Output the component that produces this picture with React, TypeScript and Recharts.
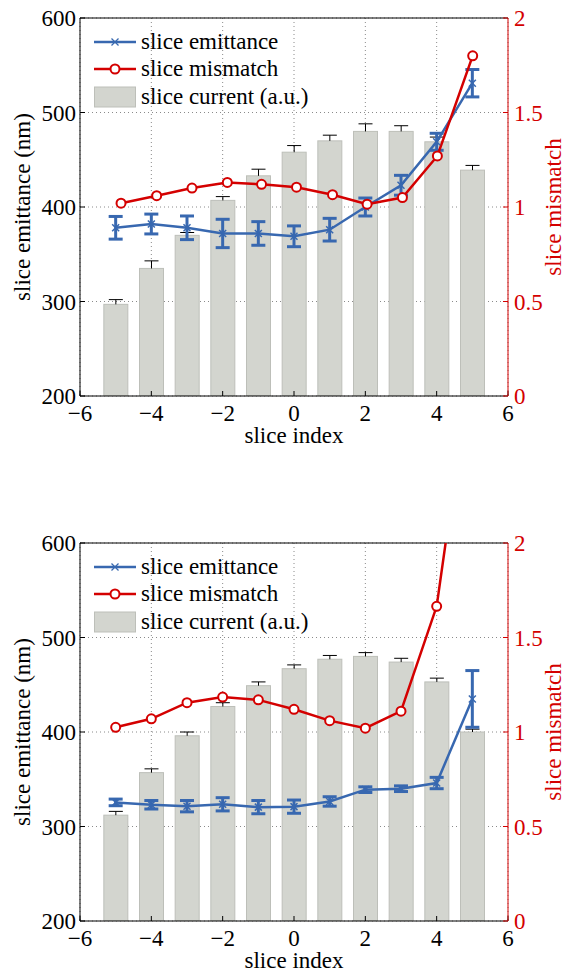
import React from "react"
import { ComposedChart, Bar, Line, XAxis, YAxis, CartesianGrid, ErrorBar, ReferenceLine, Legend } from "recharts"

const sliceIndex = [-5, -4, -3, -2, -1, 0, 1, 2, 3, 4, 5]

// upper panel
const currentTop = [297, 335, 370, 407, 433, 458, 470, 480, 480, 469, 439]
const currentErrTop = [5, 8, 3, 4, 7, 7, 6, 8, 6, 5, 5]
const emittanceTop = [378, 382, 378, 372, 372, 369, 376, 400, 423, 469, 531]
const emittanceErrTop = [12, 10.5, 12.5, 15, 12.5, 11, 12, 9.5, 10.5, 9, 14.5]
const mismatchXTop = [-4.85, -3.85, -2.86, -1.87, -0.91, 0.07, 1.08, 2.05, 3.04, 4.02, 5.01]
const mismatchTop = [1.02, 1.06, 1.1, 1.13, 1.12, 1.105, 1.065, 1.015, 1.05, 1.27, 1.8]

// lower panel
const currentBottom = [312, 357, 396, 427, 449, 467, 477, 480, 474, 453, 400]
const currentErrBottom = [4, 4, 4, 4, 4, 4, 4, 4, 4, 4, 3]
const emittanceBottom = [325.5, 323, 321.5, 323.5, 320.5, 321, 326.5, 339, 340, 346, 435]
const emittanceErrBottom = [3.5, 4.5, 6, 7, 7, 7, 5, 3, 3, 6, 30]
const mismatchBottom = [1.025, 1.07, 1.155, 1.185, 1.17, 1.12, 1.06, 1.02, 1.11, 1.665, 3.0]

const xTicks = [-6, -4, -2, 0, 2, 4, 6]
const leftTicks = [200, 300, 400, 500, 600]
const rightTicks = [0, 0.5, 1, 1.5, 2]

const FONT = '"Liberation Serif", "Times New Roman", serif'
const FS = 23
const BLUE = "#3868B0"
const RED = "#D40000"
const BAR = "#D3D5CF"
const BAR_EDGE = "#BDBFB9"

const fmt = (v: number) => String(v).replace("-", "\u2212")

function buildMain(cur: number[], curErr: number[], emit: number[], emitErr: number[]) {
  return sliceIndex.map((x, i) => ({
    x,
    current: cur[i],
    currentErr: curErr[i],
    emittance: emit[i],
    emittanceErr: emitErr[i],
  }))
}

function buildMismatch(xs: number[], m: number[]) {
  return xs.map((x, i) => ({ xm: x, m: m[i] }))
}

// bar with a one-sided (upper) error bar, scaled from the bar's own height
const BarWithErr = (props: any) => {
  const { x, y, width, height, payload } = props
  const pxPerUnit = height / (payload.current - 200)
  const cx = x + width / 2
  const ty = y - payload.currentErr * pxPerUnit
  return (
    <g>
      <rect x={x} y={y} width={width} height={height} fill={BAR} stroke={BAR_EDGE} strokeWidth={1} />
      <line x1={cx} y1={y} x2={cx} y2={ty} stroke="#000" strokeWidth={1} />
      <line x1={cx - 7} y1={ty} x2={cx + 7} y2={ty} stroke="#000" strokeWidth={1} />
    </g>
  )
}

const Cross = (props: any) => {
  const { cx, cy, index } = props
  if (cx == null || cy == null) return <g key={`c-${index}`} />
  const s = 3.5
  return (
    <g key={`c-${index}`}>
      <line x1={cx - s} y1={cy - s} x2={cx + s} y2={cy + s} stroke={BLUE} strokeWidth={1.5} />
      <line x1={cx - s} y1={cy + s} x2={cx + s} y2={cy - s} stroke={BLUE} strokeWidth={1.5} />
    </g>
  )
}

const LegendBox = () => {
  const row = { display: "flex", alignItems: "center", height: 27.5 } as const
  return (
    <div style={{ fontFamily: FONT, fontSize: FS, color: "#000", whiteSpace: "nowrap" }}>
      <div style={row}>
        <svg width={42} height={20}>
          <line x1={0} y1={10} x2={42} y2={10} stroke={BLUE} strokeWidth={2.5} />
          <line x1={17.5} y1={6.5} x2={24.5} y2={13.5} stroke={BLUE} strokeWidth={1.2} />
          <line x1={17.5} y1={13.5} x2={24.5} y2={6.5} stroke={BLUE} strokeWidth={1.2} />
        </svg>
        <span style={{ marginLeft: 5 }}>slice emittance</span>
      </div>
      <div style={row}>
        <svg width={42} height={20}>
          <line x1={0} y1={10} x2={42} y2={10} stroke={RED} strokeWidth={2.5} />
          <circle cx={21} cy={10} r={4.5} fill="#fff" stroke={RED} strokeWidth={2} />
        </svg>
        <span style={{ marginLeft: 5 }}>slice mismatch</span>
      </div>
      <div style={row}>
        <svg width={42} height={22}>
          <rect x={0.5} y={1} width={41} height={20} fill={BAR} stroke={BAR_EDGE} />
        </svg>
        <span style={{ marginLeft: 5 }}>slice current (a.u.)</span>
      </div>
    </div>
  )
}

function Panel({ main, mismatch, top }: { main: any[]; mismatch: any[]; top: number }) {
  const tickStyle = { fill: "#000", fontSize: FS, fontFamily: FONT }
  return (
    <div style={{ position: "absolute", left: 0, top, fontFamily: FONT }}>
      <ComposedChart
        width={567}
        height={448}
        data={main}
        margin={{ top: 18, right: 0, bottom: 0, left: 0 }}
        style={{ fontFamily: FONT }}
      >
        <CartesianGrid yAxisId="left" stroke="#8a8a8a" strokeDasharray="1 3" />
        <XAxis
          dataKey="x"
          type="number"
          domain={[-6, 6]}
          ticks={xTicks}
          allowDataOverflow
          height={52}
          stroke="#000"
          tickSize={-5}
          tickMargin={14}
          tick={tickStyle}
          tickFormatter={fmt}
          label={{ value: "slice index", position: "insideBottom", offset: 5, fill: "#000", fontSize: FS, fontFamily: FONT }}
        />
        <XAxis xAxisId="m" dataKey="xm" type="number" domain={[-6, 6]} allowDataOverflow hide />
        <YAxis
          yAxisId="left"
          domain={[200, 600]}
          ticks={leftTicks}
          allowDataOverflow
          width={80}
          stroke="#000"
          tickSize={-5}
          tickMargin={9}
          tick={tickStyle}
          label={{
            value: "slice emittance (nm)",
            angle: -90,
            position: "insideLeft",
            offset: 22,
            fill: "#000",
            fontSize: FS,
            fontFamily: FONT,
            style: { textAnchor: "middle" },
          }}
        />
        <YAxis
          yAxisId="right"
          orientation="right"
          domain={[0, 2]}
          ticks={rightTicks}
          allowDataOverflow
          width={59}
          stroke={RED}
          tickSize={-5}
          tickMargin={11}
          tick={{ ...tickStyle, fill: RED }}
          label={{
            value: "slice mismatch",
            angle: -90,
            position: "insideRight",
            offset: 14,
            fill: RED,
            fontSize: FS,
            fontFamily: FONT,
            style: { textAnchor: "middle" },
          }}
        />
        <ReferenceLine yAxisId="left" y={600} stroke="#000" strokeWidth={1} />
        <Bar yAxisId="left" dataKey="current" barSize={24} shape={BarWithErr} isAnimationActive={false} />
        <Line yAxisId="left" dataKey="emittance" stroke={BLUE} strokeWidth={2.5} dot={Cross} isAnimationActive={false}>
          <ErrorBar dataKey="emittanceErr" width={7} stroke={BLUE} strokeWidth={3} direction="y" isAnimationActive={false} />
        </Line>
        <Line
          yAxisId="right"
          xAxisId="m"
          data={mismatch}
          dataKey="m"
          stroke={RED}
          strokeWidth={2.5}
          dot={{ r: 4.5, fill: "#fff", stroke: RED, strokeWidth: 2 }}
          isAnimationActive={false}
        />
        <Legend
          layout="vertical"
          align="center"
          verticalAlign="middle"
          content={<LegendBox />}
          wrapperStyle={{ top: 28, left: 94, width: 280 }}
        />
      </ComposedChart>
    </div>
  )
}

export default function App() {
  return (
    <div style={{ position: "absolute", left: 0, top: 0, width: 567, height: 972, background: "#fff" }}>
      <Panel
        main={buildMain(currentTop, currentErrTop, emittanceTop, emittanceErrTop)}
        mismatch={buildMismatch(mismatchXTop, mismatchTop)}
        top={0}
      />
      <Panel
        main={buildMain(currentBottom, currentErrBottom, emittanceBottom, emittanceErrBottom)}
        mismatch={buildMismatch(sliceIndex, mismatchBottom)}
        top={525}
      />
    </div>
  )
}
